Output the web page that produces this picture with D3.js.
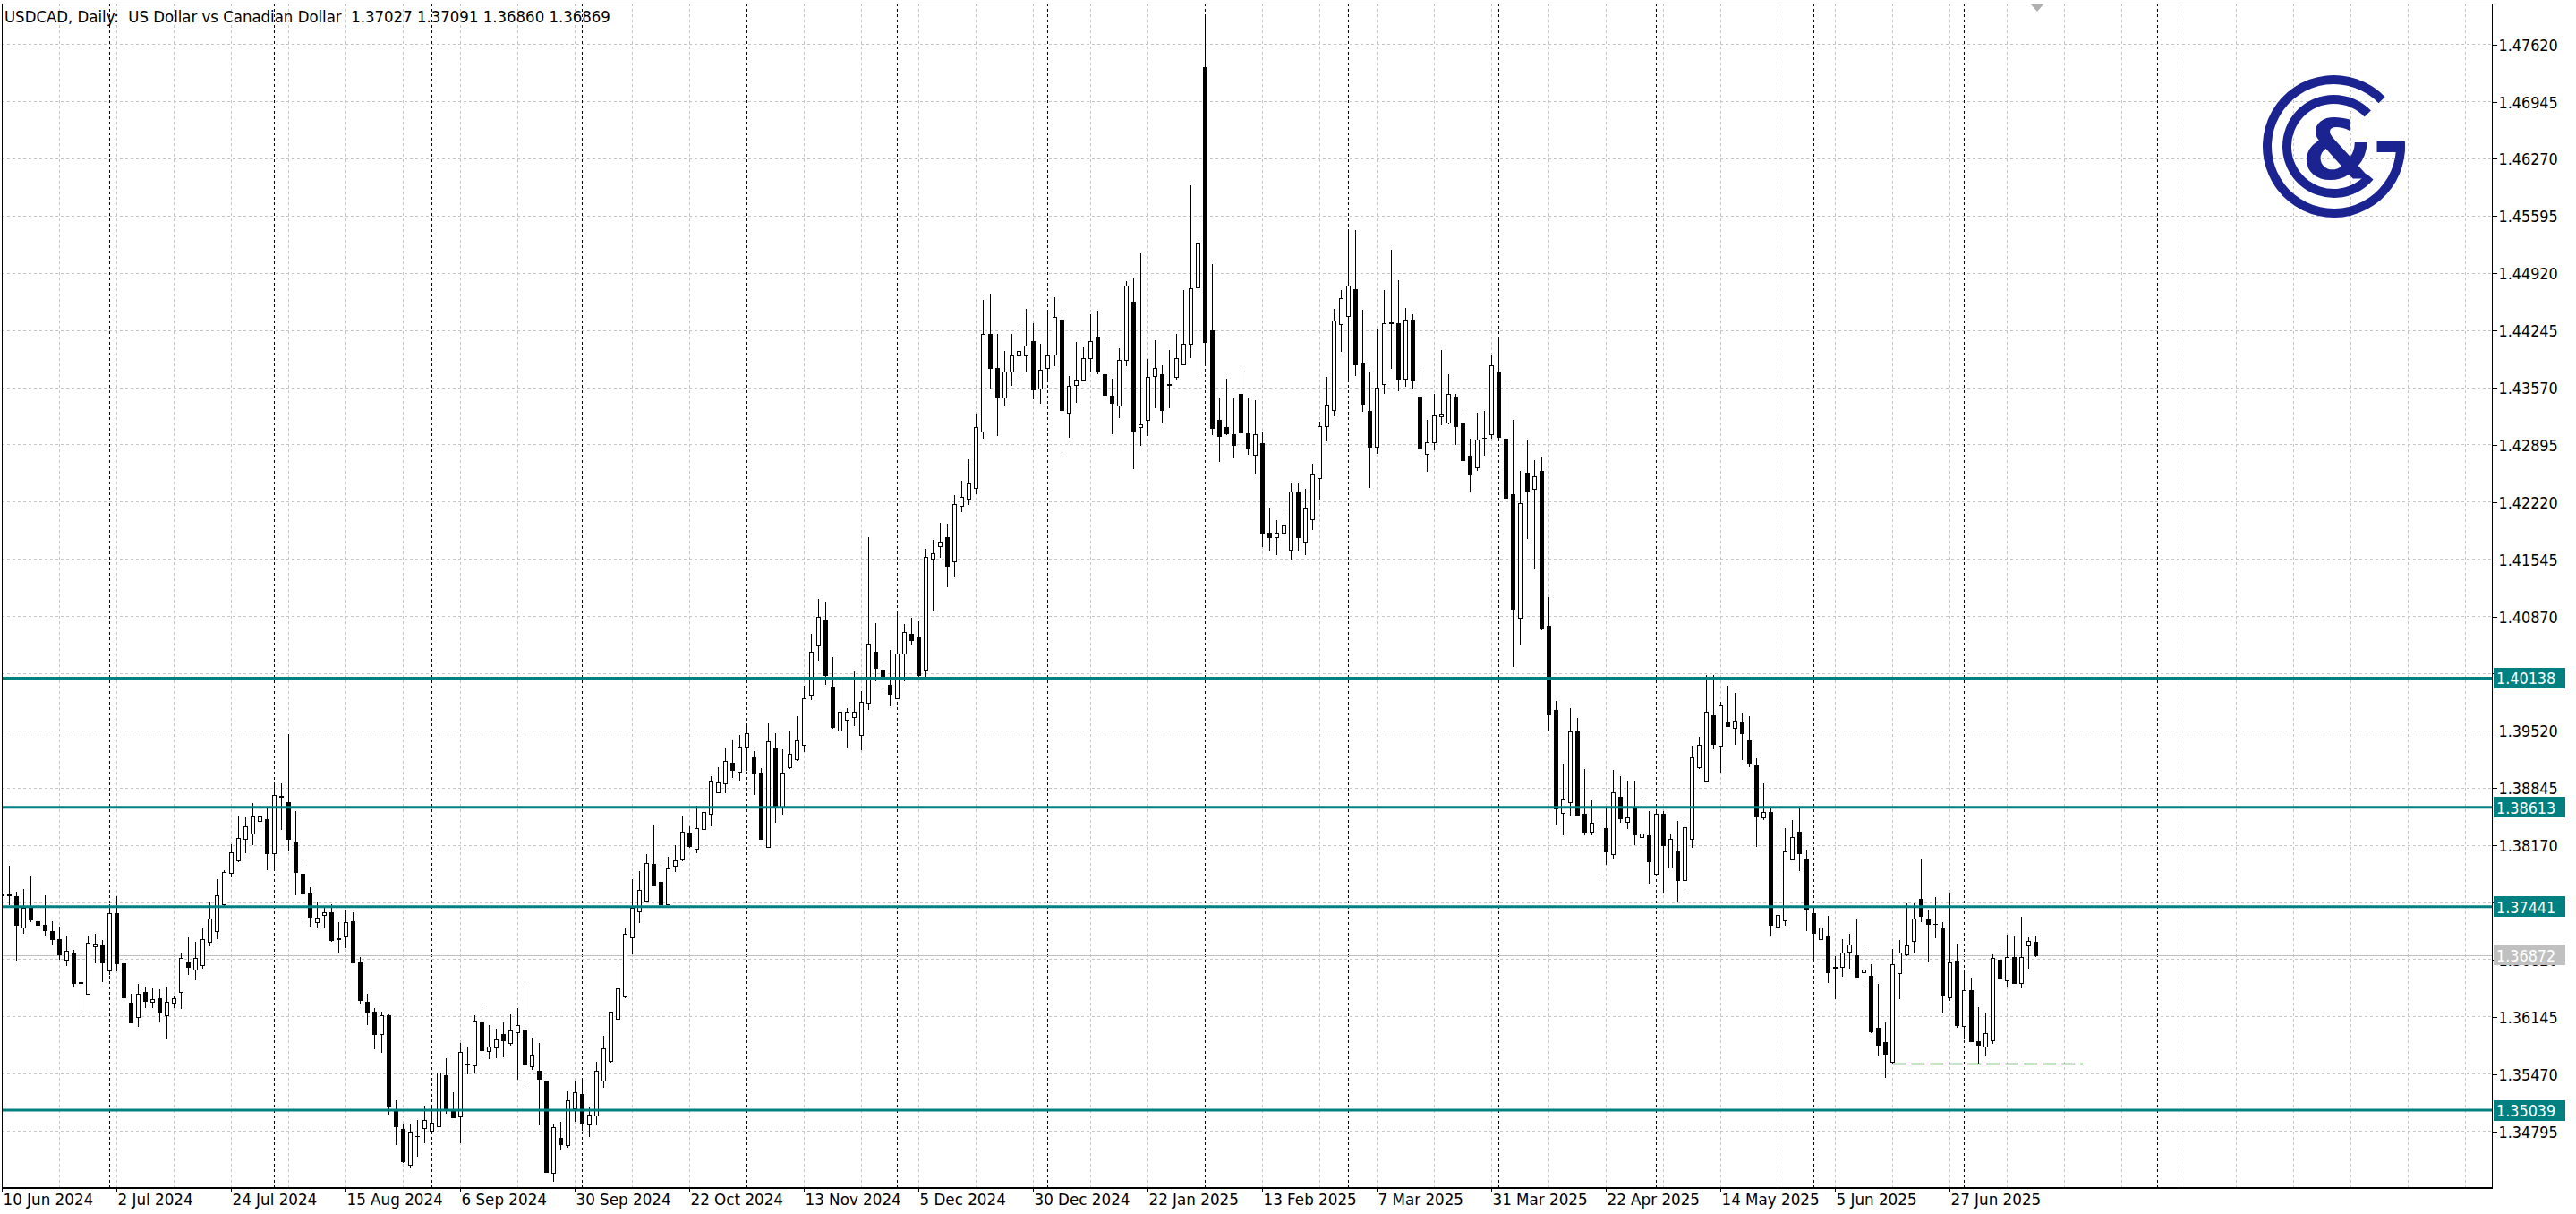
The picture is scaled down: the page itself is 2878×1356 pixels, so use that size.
<!DOCTYPE html>
<html><head><meta charset="utf-8">
<script src="https://cdn.jsdelivr.net/npm/d3@7"></script>
<style>
html,body{margin:0;padding:0;background:#fff;overflow:hidden;}
svg{display:block;}
text{font-family:"DejaVu Sans",Verdana,sans-serif;}
</style></head><body>
<svg id="chart" width="2878" height="1356"></svg>
<script>
// ---------------- DATA ----------------
const symbol = "USDCAD";
const timeframe = "Daily";
const description = "US Dollar vs Canadian Dollar";
const firstBarDate = "2024-06-10";
const closedDays = ["2024-12-25", "2025-01-01"];

const open = [1.37570,1.37585,1.37566,1.37196,1.37432,1.37266,1.37231,1.37157,1.37054,1.36815,
1.36885,1.36540,1.36416,1.36977,1.36998,1.36691,1.37361,1.36769,1.36310,1.36134,
1.36437,1.36321,1.36356,1.36162,1.36310,1.36434,1.36797,1.36698,1.36755,1.37026,
1.37157,1.37467,1.37838,1.37989,1.38243,1.38307,1.38448,1.38472,1.38074,1.38748,
1.38673,1.38208,1.37830,1.37591,1.37263,1.37337,1.37372,1.37069,1.37090,1.37273,
1.36797,1.36321,1.36197,1.35940,1.36162,1.35040,1.34822,1.34391,1.34728,1.34829,
1.34797,1.34850,1.35456,1.35026,1.34963,1.35585,1.35569,1.36081,1.35732,1.35781,
1.35933,1.35827,1.35961,1.35975,1.35562,1.35499,1.35386,1.34299,1.34716,1.34628,
1.35058,1.35234,1.34867,1.34973,1.35386,1.35615,1.36120,1.36381,1.37079,1.37389,
1.37509,1.37943,1.37732,1.37474,1.37926,1.37996,1.38314,1.38120,1.38357,1.38538,
1.38793,1.38896,1.39134,1.39037,1.39332,1.39207,1.39020,1.38142,1.39304,1.38612,
1.39088,1.39179,1.39349,1.39944,1.40522,1.40834,1.40041,1.39519,1.39644,1.39672,
1.39462,1.39842,1.40449,1.40239,1.40058,1.39899,1.40426,1.40664,1.40619,1.40239,
1.41543,1.41696,1.41798,1.41515,1.42166,1.42251,1.42382,1.43045,1.44200,1.43800,
1.43450,1.43750,1.43950,1.43950,1.44118,1.43559,1.43793,1.43954,1.44365,1.43269,
1.43598,1.43649,1.43915,1.44169,1.43727,1.43465,1.43355,1.43895,1.44576,1.43101,
1.43187,1.43707,1.43727,1.43605,1.43696,1.43844,1.44087,1.44744,1.47346,1.44243,
1.43187,1.43101,1.43015,1.43492,1.43023,1.42776,1.42913,1.41850,1.41800,1.41850,
1.41650,1.42338,1.41750,1.42017,1.42494,1.43112,1.43296,1.44314,1.44412,1.44725,
1.43851,1.43291,1.42870,1.43603,1.44335,1.44325,1.43667,1.44371,1.43459,1.42783,
1.42916,1.43228,1.43158,1.43464,1.43147,1.42766,1.42627,1.42970,1.43014,1.43753,
1.42968,1.42304,1.40848,1.42563,1.42367,1.42581,1.40750,1.39762,1.38550,1.38671,
1.39508,1.38538,1.38324,1.38408,1.38365,1.38064,1.38740,1.38440,1.38596,1.38261,
1.38278,1.37828,1.38538,1.37903,1.38088,1.37758,1.38238,1.39087,1.38932,1.39697,
1.39336,1.39620,1.39550,1.39616,1.39416,1.39118,1.38494,1.38557,1.37206,1.37276,
1.38002,1.38322,1.38013,1.37364,1.37055,1.37101,1.36725,1.36732,1.36908,1.36866,
1.36669,1.36627,1.36013,1.35838,1.35609,1.36655,1.36873,1.37031,1.37529,1.37301,
1.37241,1.37181,1.36371,1.36802,1.36031,1.36459,1.35855,1.35785,1.35862,1.36813,
1.36567,1.36845,1.36539,1.36985,1.37027];

const high = [1.37680,1.37919,1.37615,1.37651,1.37806,1.37661,1.37573,1.37273,1.37210,1.37086,
1.36928,1.36822,1.37086,1.37125,1.37044,1.37467,1.37562,1.36875,1.36409,1.36532,
1.36487,1.36480,1.36462,1.36487,1.36391,1.36896,1.37079,1.37026,1.37192,1.37485,
1.37767,1.37866,1.38173,1.38508,1.38497,1.38659,1.38649,1.38603,1.38906,1.38896,
1.39478,1.38568,1.37919,1.37672,1.37485,1.37450,1.37474,1.37256,1.37397,1.37379,
1.36850,1.36416,1.36240,1.36197,1.36168,1.35157,1.34885,1.34882,1.34920,1.35097,
1.35068,1.35633,1.35657,1.35252,1.35827,1.35774,1.36162,1.36240,1.36046,1.36003,
1.36081,1.36172,1.36240,1.36486,1.35897,1.35827,1.35390,1.34874,1.34899,1.35262,
1.35386,1.35404,1.35086,1.35605,1.35915,1.36204,1.36754,1.37192,1.37767,1.37855,
1.38060,1.38402,1.37943,1.38024,1.38165,1.38508,1.38391,1.38631,1.38691,1.38981,
1.39088,1.39304,1.39406,1.39462,1.39598,1.39275,1.39077,1.39598,1.39491,1.39292,
1.39519,1.39689,1.40052,1.40664,1.41072,1.41044,1.40381,1.40137,1.39785,1.40228,
1.39984,1.41798,1.40789,1.40335,1.40466,1.40919,1.40778,1.40851,1.40806,1.41668,
1.41770,1.41968,1.41957,1.42297,1.42467,1.42722,1.43255,1.44600,1.44670,1.44200,
1.44000,1.44200,1.44300,1.44490,1.44326,1.44087,1.44459,1.44635,1.44498,1.43707,
1.44099,1.44040,1.44431,1.44470,1.44099,1.43668,1.44032,1.44823,1.44862,1.45155,
1.43903,1.44130,1.43833,1.44013,1.44204,1.44713,1.45950,1.45597,1.47953,1.45026,
1.43441,1.43668,1.43453,1.43754,1.43453,1.43422,1.43050,1.42150,1.42000,1.42123,
1.42447,1.42447,1.42369,1.42670,1.43167,1.43688,1.44490,1.44713,1.45429,1.45429,
1.44487,1.43753,1.44256,1.44718,1.45197,1.44833,1.44504,1.44429,1.43782,1.43187,
1.43487,1.44007,1.43724,1.43493,1.43314,1.42968,1.43274,1.43291,1.43950,1.44140,
1.43649,1.43187,1.42581,1.42956,1.42714,1.42737,1.41096,1.39866,1.39127,1.39780,
1.39664,1.39069,1.38694,1.38492,1.38596,1.39058,1.38983,1.38925,1.38925,1.38729,
1.38567,1.38578,1.38567,1.38295,1.38451,1.38434,1.39335,1.39445,1.40171,1.40171,
1.39855,1.40048,1.39960,1.39732,1.39690,1.39195,1.38897,1.38599,1.37406,1.38364,
1.38459,1.38599,1.38111,1.37434,1.37434,1.37329,1.36855,1.37055,1.37125,1.37301,
1.36915,1.36760,1.36532,1.36090,1.36943,1.37048,1.37476,1.37476,1.37995,1.37399,
1.37550,1.37259,1.37610,1.37002,1.36687,1.36602,1.36259,1.36181,1.36873,1.36960,
1.37111,1.37101,1.37322,1.37083,1.37091];

const low = [1.37450,1.37467,1.36815,1.37132,1.37273,1.37213,1.37097,1.36991,1.36825,1.36751,
1.36504,1.36211,1.36410,1.36779,1.36561,1.36645,1.36691,1.36187,1.36070,1.36032,
1.36257,1.36257,1.36099,1.35898,1.36250,1.36243,1.36649,1.36585,1.36719,1.36984,
1.37069,1.37460,1.37795,1.37979,1.38084,1.38180,1.38391,1.37883,1.37915,1.38360,
1.38109,1.37580,1.37256,1.37220,1.37192,1.37203,1.37037,1.36896,1.36963,1.36780,
1.36310,1.36056,1.35767,1.35728,1.34998,1.34638,1.34430,1.34363,1.34504,1.34663,
1.34786,1.34839,1.35005,1.34950,1.34663,1.35474,1.35492,1.35675,1.35650,1.35661,
1.35675,1.35809,1.35404,1.35333,1.35527,1.34874,1.34305,1.34204,1.34582,1.34603,
1.34910,1.34804,1.34733,1.34874,1.35315,1.35610,1.36115,1.36375,1.36885,1.37262,
1.37505,1.37690,1.37470,1.37470,1.37862,1.37990,1.38144,1.38084,1.38142,1.38397,
1.38790,1.38793,1.38964,1.38935,1.39049,1.38765,1.38240,1.38140,1.38436,1.38533,
1.39077,1.39175,1.39275,1.39893,1.40352,1.40069,1.39555,1.39502,1.39321,1.39587,
1.39292,1.39768,1.40109,1.40001,1.39814,1.39895,1.40109,1.40539,1.40154,1.40154,
1.40948,1.41571,1.41220,1.41333,1.42110,1.42195,1.42320,1.42977,1.43550,1.43000,
1.43350,1.43600,1.43700,1.43754,1.43441,1.43383,1.43668,1.43825,1.42796,1.42983,
1.43394,1.43645,1.43754,1.43739,1.43433,1.43023,1.43218,1.43825,1.42612,1.42893,
1.43003,1.43336,1.43152,1.43336,1.43668,1.43840,1.43923,1.43715,1.43864,1.43015,
1.42698,1.43020,1.42737,1.43040,1.42788,1.42565,1.41700,1.41650,1.41600,1.41550,
1.41550,1.41650,1.41600,1.41900,1.42260,1.42944,1.43238,1.44001,1.43676,1.43715,
1.43291,1.42390,1.42794,1.43505,1.43794,1.43534,1.43591,1.43563,1.42771,1.42581,
1.42841,1.43129,1.43141,1.42898,1.42710,1.42350,1.42592,1.42771,1.42973,1.42973,
1.42251,1.40282,1.40548,1.41790,1.41437,1.40715,1.39520,1.38411,1.38295,1.38521,
1.38520,1.38295,1.38295,1.37816,1.37943,1.38007,1.38440,1.38365,1.38174,1.38093,
1.37718,1.37824,1.37614,1.37900,1.37510,1.37643,1.38145,1.39076,1.38928,1.39311,
1.39031,1.39570,1.39357,1.39181,1.39101,1.38160,1.38476,1.37108,1.36883,1.37231,
1.37998,1.37866,1.37160,1.36820,1.37031,1.36546,1.36364,1.36620,1.36715,1.36612,
1.36522,1.35963,1.35687,1.35427,1.35585,1.36364,1.36866,1.36897,1.37266,1.36802,
1.37073,1.36199,1.36339,1.36020,1.35890,1.35851,1.35585,1.35690,1.35827,1.36399,
1.36497,1.36535,1.36487,1.36715,1.36860];

const close = [1.37580,1.37578,1.37227,1.37432,1.37291,1.37227,1.37164,1.37062,1.36878,1.36920,
1.36539,1.36546,1.37019,1.37009,1.36786,1.37361,1.36772,1.36374,1.36074,1.36416,
1.36331,1.36345,1.36190,1.36321,1.36356,1.36832,1.36733,1.36832,1.37062,1.37298,
1.37573,1.37845,1.38077,1.38250,1.38384,1.38501,1.38501,1.38074,1.38755,1.38733,
1.38243,1.37845,1.37591,1.37326,1.37308,1.37372,1.37051,1.37054,1.37256,1.36786,
1.36338,1.36190,1.35940,1.36162,1.35079,1.34850,1.34434,1.34786,1.34732,1.34927,
1.34892,1.35485,1.35051,1.34956,1.35721,1.35578,1.36091,1.35749,1.35792,1.35869,
1.35862,1.35975,1.36046,1.35580,1.35696,1.35411,1.34310,1.34839,1.34638,1.35157,
1.35252,1.34892,1.34987,1.35509,1.35763,1.36197,1.36472,1.37121,1.37425,1.37633,
1.37954,1.37696,1.37474,1.37890,1.37986,1.38321,1.38155,1.38366,1.38555,1.38930,
1.38907,1.39156,1.39049,1.39332,1.39485,1.39020,1.38244,1.39389,1.38612,1.39020,
1.39247,1.39406,1.39899,1.40449,1.40863,1.40171,1.39559,1.39740,1.39740,1.39740,
1.39854,1.40539,1.40256,1.40126,1.39956,1.40426,1.40681,1.40590,1.40171,1.41571,
1.41611,1.41753,1.41458,1.42195,1.42280,1.42433,1.43102,1.44200,1.43800,1.43450,
1.43750,1.43950,1.44000,1.44060,1.43543,1.43778,1.43942,1.44400,1.43304,1.43582,
1.43649,1.43911,1.44118,1.43754,1.43480,1.43386,1.43895,1.44772,1.43050,1.43132,
1.43688,1.43793,1.43304,1.43600,1.43915,1.44087,1.44733,1.45273,1.44099,1.43089,
1.42995,1.43023,1.42893,1.43042,1.42846,1.43011,1.41850,1.41800,1.41850,1.41950,
1.42338,1.41800,1.42150,1.42541,1.43112,1.43363,1.44361,1.44619,1.44772,1.43836,
1.43372,1.42870,1.43563,1.44331,1.44328,1.43667,1.44371,1.43649,1.42852,1.42916,
1.43233,1.43256,1.43487,1.43112,1.42714,1.42540,1.42956,1.42976,1.43834,1.42985,
1.42263,1.40952,1.42205,1.42338,1.42523,1.40721,1.39710,1.38596,1.38700,1.39508,
1.38527,1.38324,1.38434,1.38414,1.38093,1.38786,1.38480,1.38498,1.38290,1.38307,
1.37978,1.38538,1.38163,1.38238,1.37758,1.38382,1.39202,1.39347,1.39743,1.39357,
1.39813,1.39574,1.39634,1.39487,1.39136,1.38504,1.38557,1.37231,1.37346,1.38090,
1.38259,1.38076,1.37410,1.37129,1.37195,1.36662,1.36719,1.36901,1.36996,1.36616,
1.36697,1.35967,1.35813,1.35708,1.36760,1.36897,1.36978,1.37301,1.37329,1.37241,
1.37234,1.36399,1.36785,1.36038,1.36452,1.35855,1.35813,1.35950,1.36838,1.36592,
1.36845,1.36539,1.36845,1.37041,1.36869];

const priceTicks = [1.34795,1.35470,1.36145,1.36820,1.37495,1.38170,1.38845,1.39520,1.40195,1.40870,
1.41545,1.42220,1.42895,1.43570,1.44245,1.44920,1.45595,1.46270,1.46945,1.47620];
const levels = [1.40138, 1.38613, 1.37441, 1.35039];
const bidPrice = 1.36869;
const bidLabel = 1.36872;
const supportLine = {fromBar: 264, toBar: 290.6, price: 1.35585};
const labelEvery = 16;   // bars between date labels
const gridEvery = 8;     // bars between vertical grid lines
const futureBars = 40;

// ---------------- LAYOUT ----------------
const W = 2878, H = 1356;
const plot = {left: 2, right: 2784, top: 4, bottom: 1326};
const teal = "#008080";
const gridColor = "#c6c6c6";

const svg = d3.select("#chart");
svg.append("rect").attr("width", W).attr("height", H).attr("fill", "#fff");

// dates: trading days, then calendar-day extrapolation for the empty area
const parse = d3.timeParse("%Y-%m-%d");
const fmtKey = d3.timeFormat("%Y-%m-%d");
const dates = [];
{
  let d = parse(firstBarDate);
  while (dates.length < open.length) {
    const wd = d.getDay();
    if (wd !== 0 && wd !== 6 && !closedDays.includes(fmtKey(d))) dates.push(new Date(d));
    d = d3.timeDay.offset(d, 1);
  }
  const last = dates[dates.length - 1];
  for (let k = 1; k <= futureBars; k++) dates.push(d3.timeDay.offset(last, k));
}
const fmtLabel = d3.timeFormat("%-d %b %Y");

const x = d3.scaleLinear().domain([0, 1]).range([2.3, 10.3]);
const y = d3.scaleLinear().domain([1.34795, 1.47620]).range([1263.1, 49.2]);
const cx = i => Math.round(x(i));
const cy = p => Math.round(y(p));

svg.append("defs").append("clipPath").attr("id", "plotClip")
  .append("rect").attr("x", plot.left).attr("y", plot.top)
  .attr("width", plot.right - plot.left).attr("height", plot.bottom - plot.top);

const gPlot = svg.append("g").attr("clip-path", "url(#plotClip)");

// horizontal grid
gPlot.append("g").selectAll("line").data(priceTicks).join("line")
  .attr("x1", plot.left).attr("x2", plot.right)
  .attr("y1", d => cy(d) + 0.5).attr("y2", d => cy(d) + 0.5)
  .attr("stroke", gridColor).attr("stroke-width", 1).attr("stroke-dasharray", "3,3")
  .attr("shape-rendering", "crispEdges");

// vertical grid
const vGrid = d3.range(0, 400, gridEvery).filter(i => x(i) <= plot.right);
gPlot.append("g").selectAll("line").data(vGrid).join("line")
  .attr("x1", d => cx(d) + 0.5).attr("x2", d => cx(d) + 0.5)
  .attr("y1", plot.top).attr("y2", plot.bottom)
  .attr("stroke", gridColor).attr("stroke-width", 1).attr("stroke-dasharray", "3,3")
  .attr("shape-rendering", "crispEdges");

// period separators (month starts)
const seps = d3.range(1, dates.length).filter(i => dates[i].getMonth() !== dates[i - 1].getMonth());
gPlot.append("g").selectAll("line").data(seps).join("line")
  .attr("x1", d => cx(d) + 0.5).attr("x2", d => cx(d) + 0.5)
  .attr("y1", plot.top).attr("y2", plot.bottom)
  .attr("stroke", "#000").attr("stroke-width", 1).attr("stroke-dasharray", "3,3")
  .attr("shape-rendering", "crispEdges");

// logo
{
  const lc = {x: 2607.5, y: 163.5};
  const blue = "#1b2391";
  const g = svg.append("g").attr("transform", `translate(${lc.x},${lc.y})`);
  const deg = Math.PI / 180;
  g.append("path").attr("fill", blue)
    .attr("d", d3.arc()({innerRadius: 69.5, outerRadius: 79.5, startAngle: -274 * deg, endAngle: 46 * deg}));
  g.append("rect").attr("x", 48).attr("y", -6).attr("width", 31).attr("height", 12.5).attr("fill", blue);
  g.append("path").attr("fill", blue)
    .attr("d", d3.arc()({innerRadius: 47.5, outerRadius: 57.5, startAngle: -230 * deg, endAngle: 46 * deg}));
  g.append("text").attr("x", 4).attr("y", 36).attr("text-anchor", "middle")
    .style("font-family", "'DejaVu Sans', sans-serif").attr("font-weight", "bold")
    .attr("font-size", 92).attr("fill", blue).text("&");
}

// bid line
gPlot.append("line").attr("x1", plot.left).attr("x2", plot.right)
  .attr("y1", cy(bidPrice) + 0.5).attr("y2", cy(bidPrice) + 0.5)
  .attr("stroke", "#c0c0c0").attr("stroke-width", 1).attr("shape-rendering", "crispEdges");

// candles
const idx = d3.range(open.length);
const gC = gPlot.append("g").attr("shape-rendering", "crispEdges");
gC.selectAll("line").data(idx).join("line")
  .attr("x1", i => cx(i) + 0.5).attr("x2", i => cx(i) + 0.5)
  .attr("y1", i => cy(high[i])).attr("y2", i => cy(low[i]) + 1)
  .attr("stroke", "#000").attr("stroke-width", 1);
gC.selectAll("rect").data(idx).join("rect")
  .attr("x", i => cx(i) - 1.5)
  .attr("width", 4)
  .attr("y", i => cy(Math.max(open[i], close[i])) + 0.5)
  .attr("height", i => Math.max(0.01, cy(Math.min(open[i], close[i])) - cy(Math.max(open[i], close[i]))))
  .attr("fill", i => close[i] >= open[i] ? "#fff" : "#000")
  .attr("stroke", "#000").attr("stroke-width", 1);

// level lines
gPlot.append("g").selectAll("line").data(levels).join("line")
  .attr("x1", plot.left).attr("x2", plot.right)
  .attr("y1", d => y(d)).attr("y2", d => y(d))
  .attr("stroke", teal).attr("stroke-width", 3);

// support trendline (dashed green)
gPlot.append("line")
  .attr("x1", x(supportLine.fromBar)).attr("x2", x(supportLine.toBar))
  .attr("y1", cy(supportLine.price) + 0.5).attr("y2", cy(supportLine.price) + 0.5)
  .attr("stroke", "#2e8b2e").attr("stroke-width", 1.3).attr("stroke-dasharray", "15,6");

// frame
svg.append("rect").attr("x", plot.left + 0.5).attr("y", plot.top + 0.5)
  .attr("width", plot.right - plot.left).attr("height", plot.bottom - plot.top)
  .attr("fill", "none").attr("stroke", "#000").attr("stroke-width", 1).attr("shape-rendering", "crispEdges");
svg.append("line").attr("x1", plot.left).attr("x2", plot.right + 1)
  .attr("y1", plot.bottom + 1.5).attr("y2", plot.bottom + 1.5)
  .attr("stroke", "#000").attr("stroke-width", 1).attr("shape-rendering", "crispEdges");

function squeeze(sel, f) {
  sel.each(function () {
    const L = this.getComputedTextLength();
    d3.select(this).attr("textLength", L * f).attr("lengthAdjust", "spacingAndGlyphs");
  });
}

const fs = 18;
// right price axis
const yAxis = d3.axisRight(y).tickValues(priceTicks).tickFormat(d3.format(".5f")).tickSize(5).tickPadding(2);
const gY = svg.append("g").attr("transform", `translate(${plot.right + 0.5},0.5)`).call(yAxis);
gY.select(".domain").remove();
gY.selectAll(".tick line").attr("stroke", "#000").attr("shape-rendering", "crispEdges");
gY.selectAll(".tick text").attr("font-size", fs).attr("fill", "#000")
  .style("font-family", "'DejaVu Sans', Verdana, sans-serif").attr("dy", "0.36em");
squeeze(gY.selectAll(".tick text"), 0.89);

// bottom date axis
const labelBars = d3.range(0, open.length, labelEvery);
const xAxis = d3.axisBottom(x).tickValues(labelBars).tickFormat(i => fmtLabel(dates[i])).tickSize(4).tickPadding(0);
const gX = svg.append("g").attr("transform", `translate(0.5,${plot.bottom + 1})`).call(xAxis);
gX.select(".domain").remove();
gX.selectAll(".tick").attr("transform", d => `translate(${cx(d)},0)`);
gX.selectAll(".tick line").attr("stroke", "#000").attr("shape-rendering", "crispEdges");
gX.selectAll(".tick text").attr("font-size", fs).attr("fill", "#000")
  .style("font-family", "'DejaVu Sans', Verdana, sans-serif")
  .attr("text-anchor", "start").attr("x", 1).attr("y", 19).attr("dy", 0);
squeeze(gX.selectAll(".tick text"), 0.93);

// level price labels
const tagW = 80, tagH = 23;
const gTags = svg.append("g");
function tag(price, text, color) {
  const yy = y(price);
  gTags.append("rect").attr("x", plot.right + 2).attr("y", Math.round(yy - tagH / 2))
    .attr("width", tagW).attr("height", tagH).attr("fill", color);
  const t = gTags.append("text").attr("x", plot.right + 5).attr("y", Math.round(yy) + 7)
    .attr("font-size", fs).attr("fill", "#fff").text(text);
  squeeze(t, 0.89);
}
levels.forEach(l => tag(l, d3.format(".5f")(l), teal));
tag(bidPrice, d3.format(".5f")(bidLabel), "#c0c0c0");

// header
const n = open.length - 1;
const f5 = d3.format(".5f");
const header = svg.append("text").attr("x", 5).attr("y", 25).attr("font-size", fs)
  .attr("fill", "#000").style("white-space", "pre")
  .text(`${symbol}, ${timeframe}:  ${description}  ${f5(open[n])} ${f5(high[n])} ${f5(low[n])} ${f5(close[n])}`);
squeeze(header, 0.92);

// chart shift marker
const sx = cx(n) + 2;
svg.append("path").attr("d", `M${sx - 7},${plot.top + 1}L${sx + 7},${plot.top + 1}L${sx},${plot.top + 9}Z`)
  .attr("fill", "#b0b0b0");
</script>
</body></html>
